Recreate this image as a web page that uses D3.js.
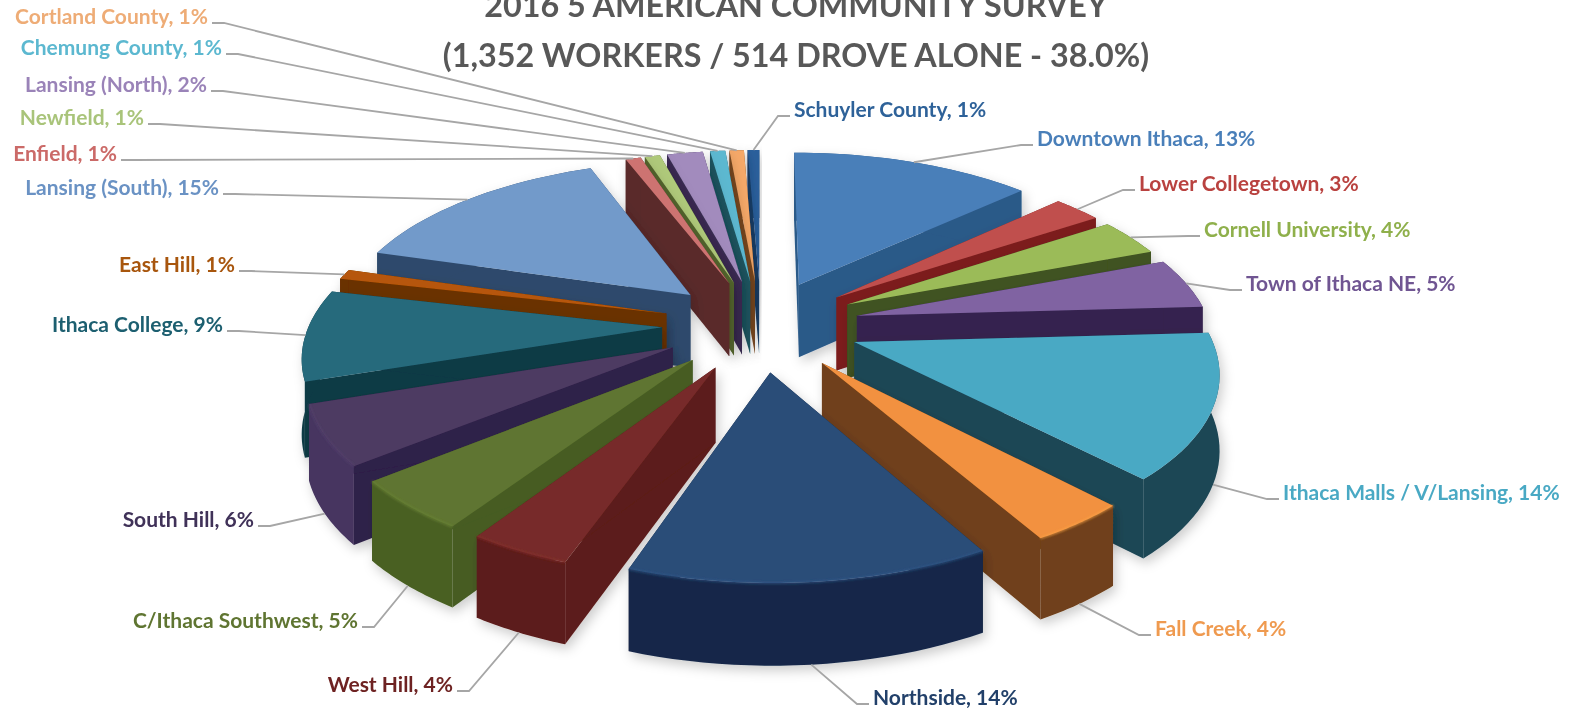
<!DOCTYPE html>
<html>
<head>
<meta charset="utf-8">
<script src="https://d3js.org/d3.v7.min.js"></script>
<style>
  html, body { margin: 0; padding: 0; background: #fff; overflow: hidden; }
  text { font-family: Lato, "Open Sans", sans-serif; font-weight: 700; }
</style>
</head>
<body>
<svg id="pie3d" width="1574" height="710"></svg>
<script>
// Values, clockwise from 12 o'clock
var categories = ["Downtown Ithaca", "Lower Collegetown", "Cornell University", "Town of Ithaca NE",
  "Ithaca Malls / V/Lansing", "Fall Creek", "Northside", "West Hill", "C/Ithaca Southwest", "South Hill",
  "Ithaca College", "East Hill", "Lansing (South)", "Enfield", "Newfield", "Lansing (North)",
  "Chemung County", "Cortland County", "Schuyler County"];
var shares = [13.4, 2.7, 3.7, 5, 14.2, 3.95, 14, 4, 5, 5.9, 9, 1, 15, 0.85, 0.85, 2, 0.85, 0.8, 0.65];
var shareLabels = ["13%", "3%", "4%", "5%", "14%", "4%", "14%", "4%", "5%", "6%", "9%", "1%", "15%", "1%", "1%", "2%", "1%", "1%", "1%"];
var titleLines = ["2016 5 AMERICAN COMMUNITY SURVEY", "(1,352 WORKERS / 514 DROVE ALONE - 38.0%)"];

// palette: top face, radial wall, outer wall, label
var topColors = ["#4a7fb9", "#c0504d", "#9bbb59", "#8064a2", "#4aa9c4", "#f2913f", "#2b4d78", "#772c2a", "#5f7530", "#4d3b62", "#276a7c", "#b65708", "#729aca", "#cd7371", "#afc97a", "#a28bbd", "#5cb8d0", "#f5a868", "#2c5f9c"];
var wallColors = ["#2c5a88", "#7c1f1f", "#3f5220", "#35244f", "#1e4655", "#70401a", "#12243f", "#5c1c1a", "#465c24", "#2e2048", "#0e3a45", "#6b3000", "#2e4a6c", "#5a2b2b", "#55662f", "#3a2c52", "#1f5560", "#7a4a22", "#1c3f6a"];
var outerColors = ["#2c5a88", "#7c1f1f", "#3f5220", "#35244f", "#1e4655", "#70401a", "#15284a", "#5c1c1a", "#4a6024", "#463560", "#0e3a45", "#6b3000", "#2e4a6c", "#5a2b2b", "#55662f", "#3a2c52", "#1f5560", "#7a4a22", "#1c3f6a"];
var labelColors = ["#4a7fb9", "#b9423f", "#8fb04c", "#6f5592", "#4aa9c4", "#ef9a50", "#22416a", "#6e2422", "#5f7530", "#3f3058", "#1f5f70", "#a8560f", "#6a92c4", "#cb6a68", "#a9c47a", "#9a83b8", "#5cb8d0", "#eeac76", "#2f6299"];

// where each label sits by hand: side the leader comes in on, edge x, centre y
var labelSide = ["l", "l", "l", "l", "l", "l", "l", "r", "r", "r", "r", "r", "r", "r", "r", "r", "r", "r", "l"];
var labelX = [1037, 1139, 1204, 1246, 1283, 1155, 873, 453, 358, 254, 223, 235, 219, 117, 144, 207, 222, 208, 794];
var labelY = [139, 184, 230, 284, 493, 629, 698, 685, 621, 520, 325, 265, 188, 154, 118, 85, 48, 17, 110];

var svg = d3.select("#pie3d");

// the pie lies in a plane (u to the right, v to the viewer), seen in perspective
var cx = 761, cy = 325, A = 353, B = 163, k = 0.15, D = 74, explode = 0.28;

function project(u, v, h) {
  var s = 1 / (1 - k * v);
  return [cx + A * u * s, cy + B * v * s + D * h * (0.5 + 0.5 * s)];
}
function onRim(a, off, r, h) {
  return project(off[0] + r * Math.sin(a), off[1] - r * Math.cos(a), h);
}

var slices = d3.pie().sort(null).value(function(d) { return d; })(shares);
slices.forEach(function(d, i) {
  d.i = i;
  d.mid = (d.startAngle + d.endAngle) / 2;
  d.off = [explode * Math.sin(d.mid), -explode * Math.cos(d.mid)];
  d.depth = d.off[1];
  d.rim = d3.range(0, 25).map(function(j) { return d.startAngle + (d.endAngle - d.startAngle) * j / 24; });
});

var defs = svg.append("defs");
var shadow = defs.append("filter").attr("id", "soft").attr("x", "-20%").attr("y", "-20%").attr("width", "140%").attr("height", "140%");
shadow.append("feDropShadow").attr("dx", 3).attr("dy", 5).attr("stdDeviation", 6).attr("flood-color", "#000").attr("flood-opacity", 0.2);
var glow = defs.append("filter").attr("id", "bevel");
glow.append("feGaussianBlur").attr("stdDeviation", 1);
// the source picture is a soft scan, take the edge off everything
var soft = defs.append("filter").attr("id", "scan").attr("filterUnits", "userSpaceOnUse")
  .attr("x", 0).attr("y", 0).attr("width", 1574).attr("height", 710);
soft.append("feGaussianBlur").attr("stdDeviation", 0.5);

var root = svg.append("g").attr("filter", "url(#scan)");
var line = d3.line();

var g = root.selectAll(".slice")
    .data(slices.slice().sort(function(a, b) { return a.depth - b.depth; }))
  .enter().append("g")
    .attr("class", "slice")
    .attr("filter", "url(#soft)");

// radial walls
g.each(function(d) {
  var el = d3.select(this);
  [d.startAngle, d.endAngle].forEach(function(a) {
    el.append("path")
      .attr("d", line([project(d.off[0], d.off[1], 0), onRim(a, d.off, 1, 0), onRim(a, d.off, 1, 1), project(d.off[0], d.off[1], 1)]) + "Z")
      .attr("fill", wallColors[d.i]);
  });
});

// outer wall
g.append("path")
  .attr("d", function(d) {
    var up = d.rim.map(function(a) { return onRim(a, d.off, 1, 0); });
    var down = d.rim.map(function(a) { return onRim(a, d.off, 1, 1); }).reverse();
    return line(up.concat(down)) + "Z";
  })
  .attr("fill", function(d) { return outerColors[d.i]; });

// top face
g.append("path")
  .attr("d", function(d) {
    var pts = [project(d.off[0], d.off[1], 0)].concat(d.rim.map(function(a) { return onRim(a, d.off, 1, 0); }));
    return line(pts) + "Z";
  })
  .attr("fill", function(d) { return topColors[d.i]; });

// lighter edge along the front rim
g.filter(function(d) { return Math.cos(d.mid) < -0.4; }).append("path")
  .attr("d", function(d) { return line(d.rim.map(function(a) { return onRim(a, d.off, 1, 0); })); })
  .attr("fill", "none")
  .attr("stroke", function(d) { return d3.color(topColors[d.i]).brighter(0.4); })
  .attr("stroke-width", 2)
  .attr("stroke-opacity", 0.7)
  .attr("filter", "url(#bevel)");

// leaders start on the top rim at the back, on the bottom rim at the front
root.selectAll(".leader")
    .data(slices)
  .enter().append("path")
    .attr("class", "leader")
    .attr("fill", "none")
    .attr("stroke", "#a6a6a6")
    .attr("stroke-width", 1.8)
    .attr("d", function(d) {
      var i = d.i, dir = labelSide[i] === "l" ? -1 : 1;
      var h = Math.cos(d.mid) < -0.1 ? 1 : 0;
      var y = labelY[i] + 6;
      return line([onRim(d.mid, d.off, 1, h), [labelX[i] + dir * 16, y], [labelX[i] + dir * 4, y]]);
    });

root.selectAll(".label")
    .data(slices)
  .enter().append("text")
    .attr("class", "label")
    .attr("x", function(d) { return labelX[d.i]; })
    .attr("y", function(d) { return labelY[d.i] + 7; })
    .attr("text-anchor", function(d) { return labelSide[d.i] === "l" ? "start" : "end"; })
    .attr("font-size", 21)
    .attr("fill", function(d) { return labelColors[d.i]; })
    .text(function(d) { return categories[d.i] + ", " + shareLabels[d.i]; });

root.selectAll(".title")
    .data(titleLines)
  .enter().append("text")
    .attr("class", "title")
    .attr("x", 796)
    .attr("y", function(d, i) { return 17 + i * 50; })
    .attr("text-anchor", "middle")
    .attr("font-size", 32.3)
    .attr("fill", "#595959")
    .text(function(d) { return d; });
</script>
</body>
</html>
